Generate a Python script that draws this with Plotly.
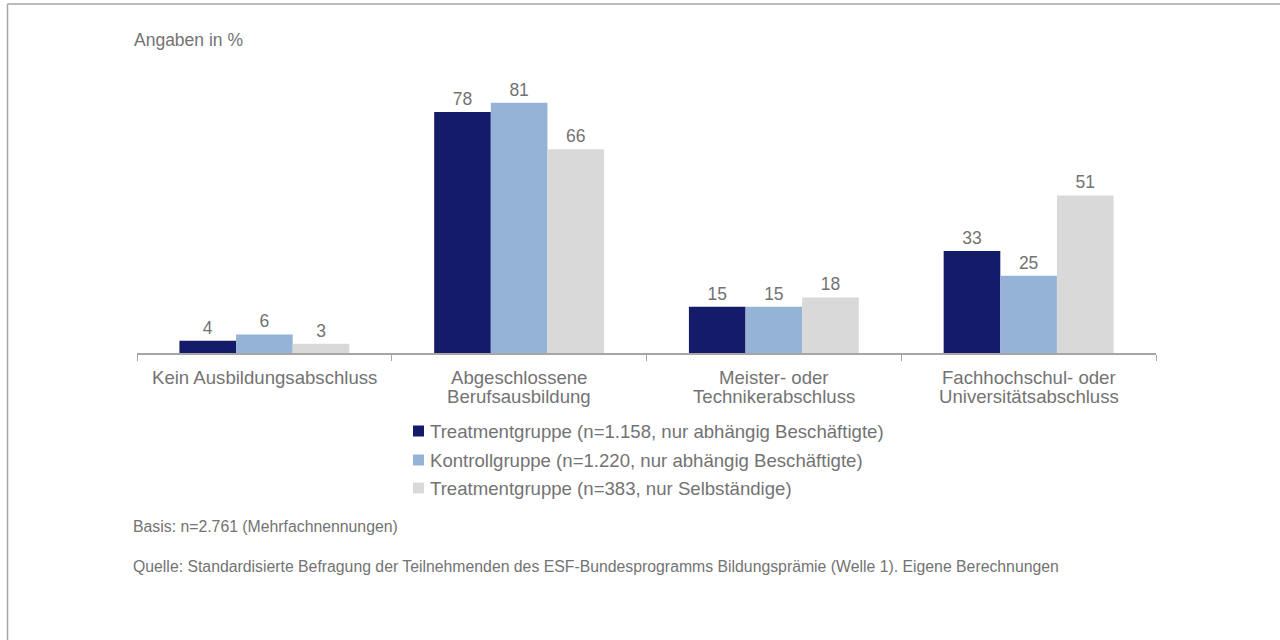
import plotly.graph_objects as go

categories = ["Kein Ausbildungsabschluss", "Abgeschlossene<br>Berufsausbildung",
              "Meister- oder<br>Technikerabschluss", "Fachhochschul- oder<br>Universitätsabschluss"]
series_names = ["Treatmentgruppe (n=1.158, nur abhängig Beschäftigte)",
                "Kontrollgruppe (n=1.220, nur abhängig Beschäftigte)",
                "Treatmentgruppe (n=383, nur Selbständige)"]
treat_abh = [4, 78, 15, 33]
kontroll_abh = [6, 81, 15, 25]
treat_selb = [3, 66, 18, 51]
colors = ["#141B69", "#95B3D7", "#D9D9D9"]
TXT = "#737373"

W, H = 1280, 640
L, R, T, B = 137, 124, 75, 287
pw, ph = W - L - R, H - T - B

fig = go.Figure()
for name, vals, c in zip(series_names, [treat_abh, kontroll_abh, treat_selb], colors):
    fig.add_trace(go.Bar(x=categories, y=vals, name=name, marker_color=c, marker_line_width=0,
                         text=[str(v) for v in vals], textposition="outside",
                         textfont=dict(size=17.5, color=TXT), cliponaxis=False,
                         showlegend=False))

def px_x(x):
    return (x - L) / pw

def px_y(y):
    return (H - B - y) / ph

annotations = [
    dict(text="Angaben in %", x=px_x(132), y=px_y(40), xref="paper", yref="paper",
         xanchor="left", yanchor="middle", showarrow=False, font=dict(size=17.5, color=TXT)),
    dict(text="Basis: n=2.761 (Mehrfachnennungen)", x=px_x(131), y=px_y(526), xref="paper", yref="paper",
         xanchor="left", yanchor="middle", showarrow=False, font=dict(size=15.8, color=TXT)),
    dict(text="Quelle: Standardisierte Befragung der Teilnehmenden des ESF-Bundesprogramms Bildungsprämie (Welle 1). Eigene Berechnungen",
         x=px_x(131), y=px_y(566), xref="paper", yref="paper",
         xanchor="left", yanchor="middle", showarrow=False, font=dict(size=15.8, color=TXT)),
]
# category labels, one annotation per line for tight line spacing
for cat in categories:
    for i, line in enumerate(cat.split("<br>")):
        annotations.append(dict(text=line, x=cat, xref="x", y=px_y(377 + i * 19.5), yref="paper",
                                xanchor="center", yanchor="middle", showarrow=False,
                                font=dict(size=18.6, color=TXT)))
shapes = [
    dict(type="line", xref="paper", yref="paper", x0=px_x(7.5), x1=px_x(7.5), y0=px_y(4), y1=px_y(700),
         line=dict(color="#A6A6A6", width=1.5)),
    dict(type="line", xref="paper", yref="paper", x0=px_x(7.5), x1=px_x(1300), y0=px_y(4), y1=px_y(4),
         line=dict(color="#A6A6A6", width=1.5)),
]
# manual legend
leg_y = [431, 460, 488]
for name, c, yy in zip(series_names, colors, leg_y):
    shapes.append(dict(type="rect", xref="paper", yref="paper", x0=px_x(413), x1=px_x(424),
                       y0=px_y(yy + 5.5), y1=px_y(yy - 5.5), fillcolor=c, line=dict(width=0)))
    annotations.append(dict(text=name, x=px_x(428), y=px_y(yy), xref="paper", yref="paper",
                            xanchor="left", yanchor="middle", showarrow=False,
                            font=dict(size=18.6, color=TXT)))

fig.update_layout(
    width=W, height=H, margin=dict(l=L, r=R, t=T, b=B),
    paper_bgcolor="white", plot_bgcolor="white",
    font=dict(family="Liberation Sans, Arial, sans-serif", color=TXT, size=18.6),
    barmode="group", bargap=0.333, bargroupgap=0,
    showlegend=False,
    xaxis=dict(showline=True, linecolor="#A6A6A6", linewidth=1.5, ticks="outside",
               tickson="boundaries", tickcolor="#A6A6A6", ticklen=6,
               showticklabels=False, showgrid=False),
    yaxis=dict(range=[0, 90], visible=False, showgrid=False),
    annotations=annotations,
    shapes=shapes,
)

fig.write_html("out.html", config={"displayModeBar": False},
               post_script="document.body.style.margin='0';document.body.style.overflow='hidden';")
